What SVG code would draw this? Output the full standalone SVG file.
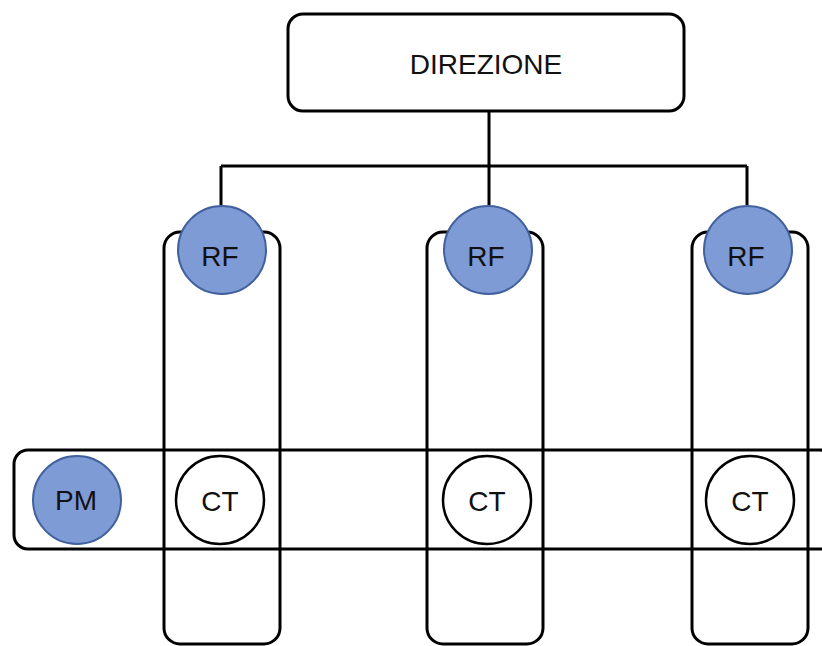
<svg xmlns="http://www.w3.org/2000/svg" width="822" height="646" viewBox="0 0 822 646">
<style>
.box{fill:none;stroke:#000;stroke-width:3}
.top{fill:#fff;stroke:#000;stroke-width:3}
.rf{fill:#7F9BD5;stroke:#41609E;stroke-width:2}
.ct{fill:#fff;stroke:#000;stroke-width:2.5}
.conn{fill:none;stroke:#000;stroke-width:3}
text{font-family:"Liberation Sans",Arial,sans-serif;font-size:28px;fill:#111;text-anchor:middle}
</style>
<rect width="822" height="646" fill="#fff"/>
<g id="connectors">
<path class="conn" d="M489 111V205M221 166H747M221 166V205M747 166V205"/>
</g>
<g id="col1"><rect class="box" x="164" y="232" width="116" height="412" rx="16"/></g>
<g id="col2"><rect class="box" x="427" y="232" width="116" height="412" rx="16"/></g>
<g id="col3"><rect class="box" x="692" y="232" width="116" height="412" rx="16"/></g>
<g id="band"><rect class="box" x="14" y="450" width="820" height="99" rx="14"/></g>
<g id="direzione"><rect class="top" x="288" y="14" width="396" height="97" rx="15"/><text x="486" y="74">DIREZIONE</text></g>
<g id="rf1"><circle class="rf" cx="222" cy="250" r="44"/><text x="220" y="266">RF</text></g>
<g id="rf2"><circle class="rf" cx="488" cy="250" r="44"/><text x="486" y="266">RF</text></g>
<g id="rf3"><circle class="rf" cx="748" cy="250" r="44"/><text x="746" y="266">RF</text></g>
<g id="pm"><circle class="rf" cx="77" cy="500" r="44"/><text x="76" y="510">PM</text></g>
<g id="ct1"><circle class="ct" cx="220" cy="500" r="44"/><text x="220" y="511">CT</text></g>
<g id="ct2"><circle class="ct" cx="487" cy="500" r="44"/><text x="487" y="511">CT</text></g>
<g id="ct3"><circle class="ct" cx="750" cy="500" r="44"/><text x="750" y="511">CT</text></g>
</svg>
